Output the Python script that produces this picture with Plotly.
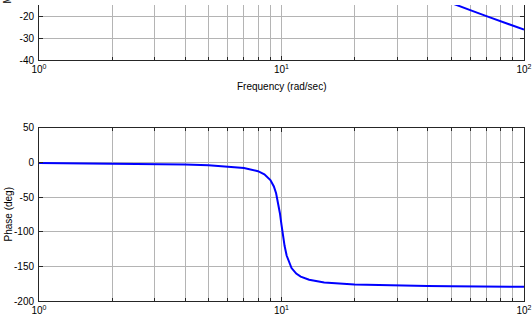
import plotly.graph_objects as go

# Frequency points (rad/sec)
freq = [1, 1.5, 2, 3, 4, 5, 6, 7, 8, 8.5, 9, 9.3, 9.5, 9.7, 9.85, 10, 10.15, 10.3,
        10.5, 10.8, 11, 11.5, 12, 13, 15, 20, 30, 40, 50, 60, 70, 80, 90, 100]
# Magnitude (dB)
magnitude = [14.07, 14.18, 14.33, 14.79, 15.49, 16.46, 17.82, 19.75, 22.64, 24.73,
             27.53, 29.68, 31.30, 32.87, 33.73, 33.98, 33.48, 32.42, 30.65, 28.03,
             26.48, 23.29, 20.80, 17.05, 11.98, 4.42, -4.09, -9.54, -13.63, -16.90,
             -19.65, -22.01, -24.08, -25.93]
# Phase (deg)
phase = [-0.6, -0.9, -1.2, -1.9, -2.7, -3.8, -5.4, -7.8, -12.5, -17.0, -25.3, -34.5,
         -44.3, -58.6, -73.2, -90.0, -106.6, -120.6, -134.3, -147.0, -152.4, -160.4,
         -164.7, -169.3, -173.2, -176.2, -177.9, -178.5, -178.8, -179.0, -179.2,
         -179.3, -179.35, -179.4]

major_x = [1, 10, 100]
major_x_text = ["10<sup>0</sup>", "10<sup>1</sup>", "10<sup>2</sup>"]
minor_x = [2, 3, 4, 5, 6, 7, 8, 9, 20, 30, 40, 50, 60, 70, 80, 90]
mag_ticks = [-40, -30, -20]
mag_ticktext = ["-40", "-30", "-20"]
phase_ticks = [-200, -150, -100, -50, 0, 50]
phase_ticktext = ["-200", "-150", "-100", "-50", "0", "50"]

FONT = "Liberation Sans, Arial, sans-serif"
AXC = "#262626"
GRIDC = "#b4b4b4"

fig = go.Figure()
fig.add_trace(go.Scatter(x=freq, y=magnitude, mode="lines",
                         line=dict(color="#0000ff", width=2), xaxis="x", yaxis="y",
                         showlegend=False))
fig.add_trace(go.Scatter(x=freq, y=phase, mode="lines",
                         line=dict(color="#0000ff", width=2), xaxis="x2", yaxis="y2",
                         showlegend=False))

W, H = 532, 317
ml, mr, mt, mb = 39, 8, 0, 16
ph = H - mt - mb  # 301

top_dom = [(ph - 56) / ph, 1.0]
bot_dom = [0.0, 176 / ph]

xcommon = dict(type="log", range=[0, 2], tickvals=major_x, ticktext=major_x_text,
               ticks="inside", ticklen=4, tickcolor=AXC, showline=True,
               linecolor=AXC, linewidth=1, showgrid=True, gridcolor=GRIDC,
               gridwidth=1, zeroline=False,
               tickfont=dict(family=FONT, size=10, color="#000"),
               minor=dict(tickvals=minor_x, ticks="inside", ticklen=3,
                          tickcolor=AXC, showgrid=True, gridcolor=GRIDC, gridwidth=1))

ycommon = dict(ticks="inside", ticklen=4, tickcolor=AXC, showline=True,
               linecolor=AXC, linewidth=1, mirror="ticks", showgrid=True,
               gridcolor=GRIDC, zeroline=False, ticklabelstandoff=2,
               tickfont=dict(family=FONT, size=10, color="#000"))

fig.update_layout(
    width=W, height=H,
    margin=dict(l=ml, r=mr, t=mt, b=mb),
    paper_bgcolor="white", plot_bgcolor="white",
    font=dict(family=FONT, size=10, color="#000"),
    xaxis=dict(**xcommon, domain=[0, 1], anchor="y", mirror=False),
    yaxis=dict(**ycommon, domain=top_dom, anchor="x", range=[-40, -14.5],
               tickvals=mag_ticks, ticktext=mag_ticktext),
    xaxis2=dict(**xcommon, domain=[0, 1], anchor="y2", mirror="ticks"),
    yaxis2=dict(**ycommon, domain=bot_dom, anchor="x2", range=[-200, 50],
                tickvals=phase_ticks, ticktext=phase_ticktext),
)

fig.add_annotation(text="Frequency (rad/sec)", xref="paper", yref="paper",
                   x=0.5, y=(ph - 83) / ph, xanchor="center", yanchor="middle",
                   showarrow=False, font=dict(family=FONT, size=10, color="#000"))
fig.add_annotation(text="Phase (deg)", xref="paper", yref="paper",
                   x=-(ml - 8) / (W - ml - mr), y=(ph - 213) / ph, xanchor="center",
                   yanchor="middle", textangle=-90, showarrow=False,
                   font=dict(family=FONT, size=10, color="#000"))
fig.add_annotation(text="Magnitude (dB)", xref="paper", yref="paper",
                   x=-(ml - 8) / (W - ml - mr), y=(ph + 36) / ph, xanchor="center",
                   yanchor="middle", textangle=-90, showarrow=False,
                   font=dict(family=FONT, size=10, color="#000"))

fig.write_html("out.html")
